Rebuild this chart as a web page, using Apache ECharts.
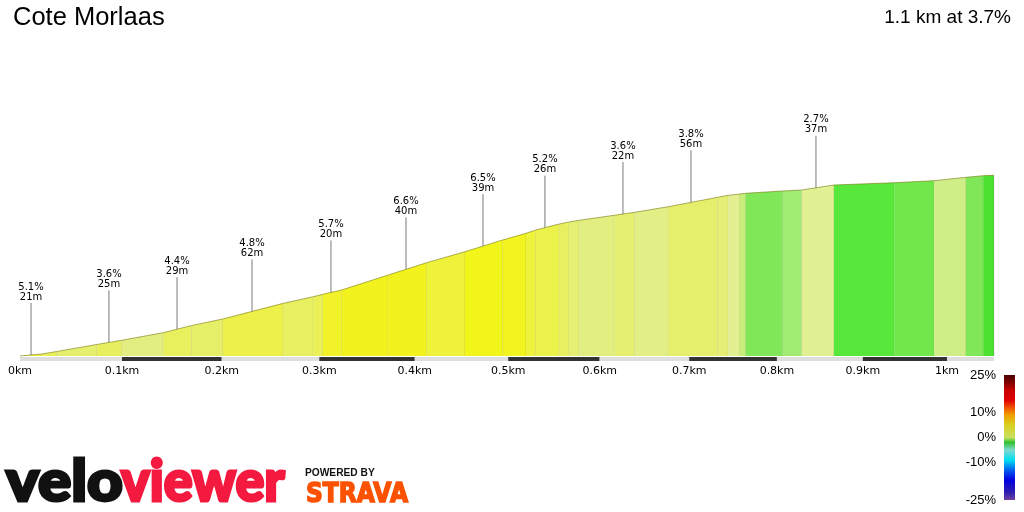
<!DOCTYPE html>
<html>
<head>
<meta charset="utf-8">
<title>Cote Morlaas</title>
<script src="https://cdn.jsdelivr.net/npm/echarts@6/dist/echarts.min.js"></script>
<style>
html, body { margin: 0; padding: 0; background: #fff; }
#chart { width: 1024px; height: 512px; }
</style>
</head>
<body>
<div id="chart"></div>
<script>
// segment boundaries along the climb
const distKm = [0, 0.0211, 0.0357, 0.0750, 0.0997, 0.1411, 0.1696, 0.2010, 0.2628, 0.2938,
  0.3035, 0.3232, 0.3720, 0.4126, 0.4535, 0.4940, 0.5193, 0.5298, 0.5556, 0.5665,
  0.5775, 0.6162, 0.6388, 0.6764, 0.7322, 0.7443, 0.7576, 0.7641, 0.8066, 0.8286,
  0.8662, 0.9371, 0.9847, 1.0228, 1.0437, 1.0567]
// height above the start, metres
const elevM = [0, 0.44, 1.0, 2.56, 3.49, 5.18, 6.78, 8.22, 11.71, 13.18,
  13.71, 14.67, 18.0, 20.73, 23.18, 25.78, 27.27, 28.0, 29.33, 29.78,
  30.16, 31.27, 31.93, 33.18, 35.27, 35.71, 36.0, 36.16, 36.67, 36.89,
  38.0, 38.51, 38.96, 39.71, 40.07, 40.15]
// gradient colour of each segment
const segColors = ['#eef03c', '#e8ef5a', '#e5ef6e', '#e8ef5e', '#e2ee82', '#e8f05e', '#e6ef68',
  '#ecf048', '#e8ef60', '#eaf055', '#f2f228', '#f2f21e', '#f2f21c', '#eef23a', '#f2f51a',
  '#f2f420', '#eef23a', '#ebf24a', '#e8f060', '#e5ef72', '#e2ef80', '#e5ef70', '#e2ef86',
  '#e6ef6c', '#e5ef75', '#e2f092', '#c8ee7a', '#80e858', '#a0ec72', '#e0f092', '#58e83c',
  '#70e84c', '#d0ee88', '#80e858', '#4ce030']

// section callouts
const labelKm = [0.0107, 0.0871, 0.1549, 0.2308, 0.3121, 0.3907, 0.4728, 0.5399, 0.6258, 0.7020, 0.8452]
const labelGrad = ['5.1%', '3.6%', '4.4%', '4.8%', '5.7%', '6.6%', '6.5%', '5.2%', '3.6%', '3.8%', '2.7%']
const labelLen = ['21m', '25m', '29m', '62m', '20m', '40m', '39m', '26m', '22m', '56m', '37m']

const tickKm = [0, 0.1, 0.2, 0.3, 0.4, 0.5, 0.6, 0.7, 0.8, 0.9, 1]
const legendTicks = [25, 10, 0, -10, -25]

// the profile is drawn in slight perspective, so km are squeezed towards the end
const persp = 0.1127
const proj = d => d * (1 + persp) / (1 + persp * d)
const unproj = p => p / ((1 + persp) - persp * p)

const elevAt = d => {
  for (let i = 0; i < distKm.length - 1; i++) {
    if (d <= distKm[i + 1]) {
      const t = (d - distKm[i]) / (distKm[i + 1] - distKm[i])
      return elevM[i] + t * (elevM[i + 1] - elevM[i])
    }
  }
  return elevM[elevM.length - 1]
}

const segData = segColors.map((c, i) => [distKm[i], distKm[i + 1], elevM[i], elevM[i + 1], i])
const barEdges = tickKm.concat([distKm[distKm.length - 1]])
const barData = barEdges.slice(0, -1).map((d, i) => [d, barEdges[i + 1], i])
const calloutData = labelKm.map((d, i) => [d, elevAt(d), i])

const chart = echarts.init(document.getElementById('chart'))

const legendTop = 375
const legendH = 125
const legendY = v => legendTop + (25 - v) / 50 * legendH

const option = {
  animation: false,
  backgroundColor: '#fff',
  grid: { left: 20, right: 21.4, top: 131, bottom: 156 },
  xAxis: {
    type: 'value',
    min: 0,
    max: 1.06,
    axisLine: { show: false },
    axisTick: { show: false },
    splitLine: { show: false },
    axisLabel: {
      customValues: tickKm.map(proj),
      formatter: v => +unproj(v).toFixed(1) + 'km',
      fontFamily: 'DejaVu Sans',
      fontSize: 11,
      color: '#000',
      margin: 10
    }
  },
  yAxis: {
    type: 'value',
    min: 0,
    max: 50,
    show: false
  },
  series: [
    {
      type: 'custom',
      name: 'profile',
      data: segData,
      renderItem: (params, api) => {
        const d0 = proj(api.value(0)), d1 = proj(api.value(1))
        const t0 = api.coord([d0, api.value(2)])
        const t1 = api.coord([d1, api.value(3)])
        const b0 = api.coord([d0, 0])
        const b1 = api.coord([d1, 0])
        return {
          type: 'group',
          children: [
            {
              type: 'polygon',
              shape: { points: [b0, t0, t1, b1] },
              style: { fill: segColors[api.value(4)] }
            },
            {
              type: 'line',
              shape: { x1: t1[0], y1: t1[1], x2: b1[0], y2: b1[1] },
              style: { stroke: 'rgba(0,0,0,0.13)', lineWidth: 1 }
            },
            {
              type: 'line',
              shape: { x1: t0[0], y1: t0[1], x2: t1[0], y2: t1[1] },
              style: { stroke: 'rgba(110,110,0,0.55)', lineWidth: 1 }
            }
          ]
        }
      }
    },
    {
      type: 'custom',
      name: 'kmbar',
      data: barData,
      renderItem: (params, api) => {
        const a = api.coord([proj(api.value(0)), 0])
        const b = api.coord([proj(api.value(1)), 0])
        return {
          type: 'rect',
          shape: { x: a[0], y: a[1] + 1, width: b[0] - a[0], height: 4 },
          style: { fill: api.value(2) % 2 ? '#333' : '#dedede' }
        }
      }
    },
    {
      type: 'custom',
      name: 'callouts',
      data: calloutData,
      renderItem: (params, api) => {
        const p = api.coord([proj(api.value(0)), api.value(1)])
        const i = api.value(2)
        return {
          type: 'group',
          children: [
            {
              type: 'line',
              shape: { x1: p[0], y1: p[1], x2: p[0], y2: p[1] - 52 },
              style: { stroke: '#7a7a7a', lineWidth: 1 }
            },
            {
              type: 'text',
              x: p[0],
              y: p[1] - 53,
              style: {
                text: labelGrad[i] + '\n' + labelLen[i],
                align: 'center',
                verticalAlign: 'bottom',
                fontFamily: 'DejaVu Sans',
                fontSize: 10,
                lineHeight: 10,
                fill: '#000'
              }
            }
          ]
        }
      }
    }
  ],
  graphic: [
    {
      type: 'text', left: 13, top: 5,
      style: { text: 'Cote Morlaas', fontFamily: 'Liberation Sans', fontSize: 25.5, fill: '#000' }
    },
    {
      type: 'text', right: 13, top: 8,
      style: { text: '1.1 km at 3.7%', fontFamily: 'Liberation Sans', fontSize: 19, fill: '#000' }
    },
    {
      type: 'rect',
      shape: { x: 1004, y: legendTop, width: 11, height: legendH },
      style: {
        fill: new echarts.graphic.LinearGradient(0, 0, 0, 1, [
          { offset: 0, color: '#4a0000' },
          { offset: 0.06, color: '#800000' },
          { offset: 0.12, color: '#c80000' },
          { offset: 0.2, color: '#e00000' },
          { offset: 0.26, color: '#f05000' },
          { offset: 0.32, color: '#f0a000' },
          { offset: 0.4, color: '#d8d020' },
          { offset: 0.5, color: '#c8e060' },
          { offset: 0.54, color: '#30c030' },
          { offset: 0.6, color: '#80d8d0' },
          { offset: 0.68, color: '#00e0f0' },
          { offset: 0.76, color: '#0060f0' },
          { offset: 0.84, color: '#0000e0' },
          { offset: 0.94, color: '#3020b0' },
          { offset: 1, color: '#7040a0' }
        ])
      }
    },
    ...legendTicks.map(v => ({
      type: 'text',
      x: 996,
      y: legendY(v),
      style: {
        text: v + '%', align: 'right', verticalAlign: 'middle',
        fontFamily: 'Liberation Sans', fontSize: 13, fill: '#000'
      }
    })),
    {
      type: 'text', x: 6, y: 511, scaleX: 1.07,
      style: {
        text: 'velo', fontFamily: 'Lato', fontWeight: 900, fontSize: 58, fill: '#111',
        stroke: '#111', lineWidth: 3, verticalAlign: 'bottom'
      }
    },
    {
      type: 'text', x: 121, y: 511, scaleX: 0.93,
      style: {
        text: 'viewer', fontFamily: 'Lato', fontWeight: 900, fontSize: 58, fill: '#f4193f',
        stroke: '#f4193f', lineWidth: 3, verticalAlign: 'bottom'
      }
    },
    {
      type: 'text', x: 305, y: 468, scaleX: 1.02,
      style: { text: 'POWERED BY', fontFamily: 'Liberation Sans', fontWeight: 'bold', fontSize: 10, fill: '#111' }
    },
    {
      type: 'text', x: 306, y: 482, scaleX: 0.9,
      style: {
        text: 'STRAVA', fontFamily: 'DejaVu Sans', fontWeight: 'bold', fontSize: 26, fill: '#fc5200',
        stroke: '#fc5200', lineWidth: 1.5
      }
    }
  ]
}

chart.setOption(option)
window.addEventListener('resize', () => chart.resize())
</script>
</body>
</html>
